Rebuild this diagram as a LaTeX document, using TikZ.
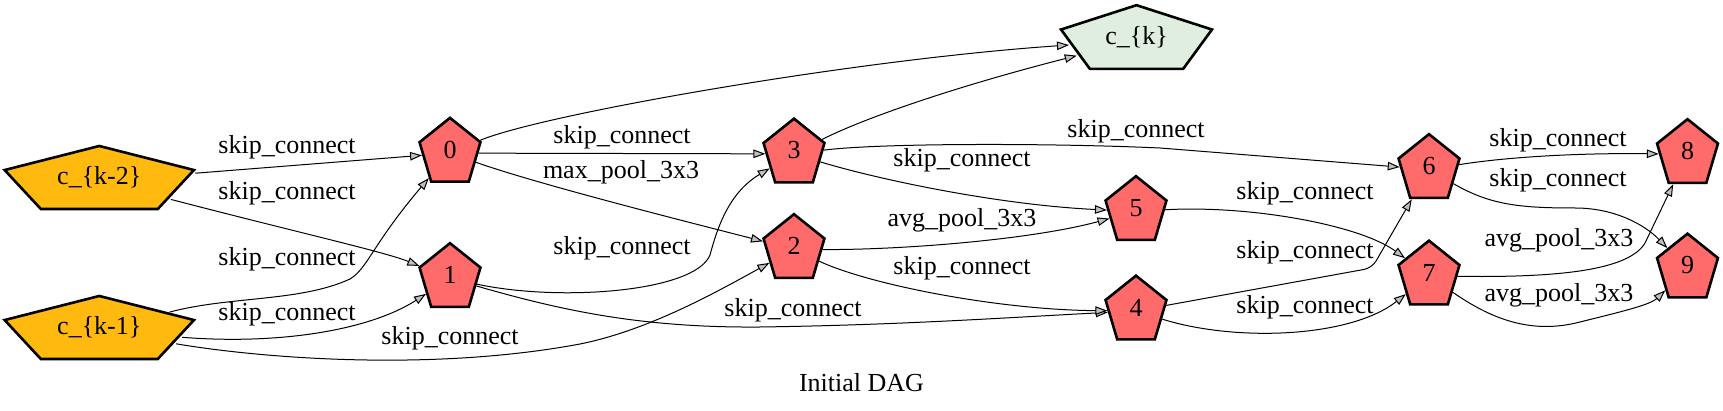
\documentclass[tikz,border=0pt]{standalone}
\usepackage{fontspec}
\setmainfont{Liberation Serif}
\usepackage{xcolor}
\usepackage{tikz}
\usetikzlibrary{shapes.geometric}
\usetikzlibrary{arrows.meta}
\definecolor{inputcol}{HTML}{FFB90F}
\definecolor{opcol}{HTML}{FF6A6A}
\definecolor{outcol}{HTML}{E0EEE0}

\begin{document}
\begin{tikzpicture}[x=1pt, y=-1pt, font=\fontsize{26}{31}\selectfont]

	\tikzstyle{cell} = [regular polygon, regular polygon sides=5, minimum size=64pt, inner sep=0pt, draw, line width=2.6pt, transform shape]
	\tikzstyle{op} = [cell, fill=opcol, yscale=1.1]
	\tikzstyle{edge} = [line width=1pt, -{Triangle[length=12pt, width=8.5pt, fill=black!25]}]
	\tikzstyle{lbl} = [inner sep=0pt]

	\useasboundingbox (0,0) rectangle (1723,411);

	% cell inputs and output
	\begin{scope}[shift={(99.3,180.8)}]
		\node[cell, fill=inputcol, xscale=3.11, yscale=1.088] (ck2) {};
		\node (ck2-t) at (0,-3.3) {c\_\{k-2\}};
	\end{scope}
	\begin{scope}[shift={(99.3,330.8)}]
		\node[cell, fill=inputcol, xscale=3.11, yscale=1.088] (ck1) {};
		\node (ck1-t) at (0,-3.3) {c\_\{k-1\}};
	\end{scope}
	\begin{scope}[shift={(1136.5,40.4)}]
		\node[cell, fill=outcol, xscale=2.48, yscale=1.1] (ck) {};
		\node (ck-t) at (0,-3.4) {c\_\{k\}};
	\end{scope}

	% intermediate nodes
	\foreach \i/\px/\py in {0/450/153.1, 1/450/278.4, 2/794/249.4, 3/794/153.9, 4/1136/310.9,
		5/1136/211.4, 6/1429/169.4, 7/1429/275.9, 8/1687.5/154.4, 9/1687.5/268.9}{
		\begin{scope}[shift={(\px,\py)}]
			\node[op] (n\i) {};
			\node (t\i) at (0,-3.4) {\i};
		\end{scope}
	}

	% edges
	\draw[edge] (ck2) -- (n0);
	\draw[edge] (ck2) .. controls (300,233) and (385,252) .. (n1);
	\draw[edge] (ck1) .. controls (230,296) and (300,302) .. (350,279) .. controls (368,268) and (372,245) .. (n0);
	\draw[edge] (ck1) .. controls (280,345) and (370,330) .. (n1);
	\draw[edge] (ck1) .. controls (260,358) and (430,372) .. (580,344) .. controls (650,330) and (720,290) .. (n2);
	\draw[edge] (n0) .. controls (540,115) and (850,60) .. (ck);
	\draw[edge] (n0) -- (n3);
	\draw[edge] (n0) .. controls (540,185) and (700,225) .. (n2);
	\draw[edge] (n1) .. controls (560,302) and (695,292) .. (710,255) .. controls (718,225) and (730,192) .. (n3);
	\draw[edge] (n1) .. controls (560,310) and (640,328) .. (760,327) .. controls (900,325) and (1000,318) .. (n4);
	\draw[edge] (n2) .. controls (900,250) and (1030,240) .. (n5);
	\draw[edge] (n2) .. controls (870,285) and (1000,310) .. (n4);
	\draw[edge] (n3) .. controls (880,180) and (1000,205) .. (n5);
	\draw[edge] (n3) .. controls (860,120) and (950,88) .. (ck);
	\draw[edge] (n3) .. controls (880,143) and (1050,143) .. (1160,148) -- (n6);
	\draw[edge] (n5) .. controls (1250,205) and (1360,225) .. (n7);
	\draw[edge, rounded corners=8pt] (n4) -- (1372,268) -- (n6);
	\draw[edge] (n4) .. controls (1235,342) and (1350,338) .. (n7);
	\draw[edge] (n6) .. controls (1520,155) and (1600,153) .. (n8);
	\draw[edge] (n6) .. controls (1490,205) and (1520,208) .. (1575,208) .. controls (1615,208) and (1645,225) .. (n9);
	\draw[edge] (n7) .. controls (1570,278) and (1630,268) .. (1645,243) -- (n8);
	\draw[edge] (n7) .. controls (1490,318) and (1530,335) .. (1580,322) .. controls (1620,312) and (1650,305) .. (n9);

	% edge labels
	\node[lbl] (l-k2-0) at (287,147) {skip\_connect};
	\node[lbl] (l-k2-1) at (287,193) {skip\_connect};
	\node[lbl] (l-k1-0) at (287,259) {skip\_connect};
	\node[lbl] (l-k1-1) at (287,314) {skip\_connect};
	\node[lbl] (l-k1-2) at (450,338) {skip\_connect};
	\node[lbl] (l-0-3) at (622,137) {skip\_connect};
	\node[lbl] (l-0-2) at (621,172) {max\_pool\_3x3};
	\node[lbl] (l-1-3) at (622,248) {skip\_connect};
	\node[lbl] (l-1-4) at (793,310) {skip\_connect};
	\node[lbl] (l-3-5) at (962,160) {skip\_connect};
	\node[lbl] (l-2-5) at (962,220) {avg\_pool\_3x3};
	\node[lbl] (l-2-4) at (962,268) {skip\_connect};
	\node[lbl] (l-3-6) at (1136,131) {skip\_connect};
	\node[lbl] (l-5-7) at (1305,193) {skip\_connect};
	\node[lbl] (l-4-6) at (1305,252) {skip\_connect};
	\node[lbl] (l-4-7) at (1305,307) {skip\_connect};
	\node[lbl] (l-6-8) at (1558,140) {skip\_connect};
	\node[lbl] (l-6-9) at (1558,180) {skip\_connect};
	\node[lbl] (l-7-8) at (1559,240) {avg\_pool\_3x3};
	\node[lbl] (l-7-9) at (1559,295) {avg\_pool\_3x3};

	\node (title) at (861.5,383) {Initial DAG};
\end{tikzpicture}
\end{document}
